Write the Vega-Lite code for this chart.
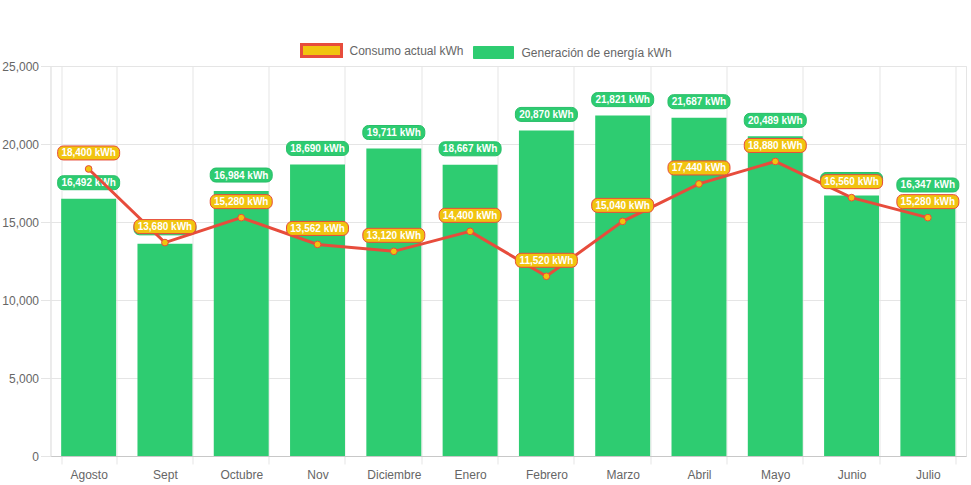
{
  "$schema": "https://vega.github.io/schema/vega-lite/v6.json",
  "width": 915.5,
  "height": 390,
  "autosize": {"type": "none"},
  "padding": {"left": 50.5, "top": 66, "right": 5, "bottom": 29},
  "background": "white",
  "config": {
    "font": "Liberation Sans",
    "view": {"stroke": "#e5e5e5"},
    "axis": {"labelColor": "#666", "labelFontSize": 12, "title": null},
    "axisY": {"format": ",.0f"}
  },
  "data": {
    "values": [
      {"mes": "Agosto", "gen": 16492, "cons": 18400},
      {"mes": "Sept", "gen": 13600, "cons": 13680},
      {"mes": "Octubre", "gen": 16984, "cons": 15280},
      {"mes": "Nov", "gen": 18690, "cons": 13562},
      {"mes": "Diciembre", "gen": 19711, "cons": 13120},
      {"mes": "Enero", "gen": 18667, "cons": 14400},
      {"mes": "Febrero", "gen": 20870, "cons": 11520},
      {"mes": "Marzo", "gen": 21821, "cons": 15040},
      {"mes": "Abril", "gen": 21687, "cons": 17440},
      {"mes": "Mayo", "gen": 20489, "cons": 18880},
      {"mes": "Junio", "gen": 16700, "cons": 16560},
      {"mes": "Julio", "gen": 16347, "cons": 15280}
    ]
  },
  "encoding": {
    "x": {
      "field": "mes", "type": "nominal", "sort": null,
      "scale": {"paddingInner": 0.28, "paddingOuter": 0.14},
      "axis": {"labelAngle": 0, "tickBand": "extent", "grid": true, "gridColor": "#e5e5e5",
               "tickColor": "#e5e5e5", "tickSize": 8, "domainColor": "#c8c8c8", "labelPadding": 5}
    }
  },
  "layer": [
    {
      "mark": {"type": "bar", "opacity": 1},
      "encoding": {
        "y": {"field": "gen", "type": "quantitative",
              "scale": {"domain": [0, 25000], "nice": false},
              "axis": {"values": [0, 5000, 10000, 15000, 20000, 25000], "format": ",.0f",
                       "grid": true, "gridColor": "#e5e5e5", "tickColor": "#e5e5e5", "tickSize": 10,
                       "domainColor": "#e5e5e5", "labelPadding": 2}},
        "fill": {
          "datum": "Generación de energía kWh",
          "scale": {"domain": ["Consumo actual kWh", "Generación de energía kWh"], "range": ["#f1c40f", "#2ecc71"]},
          "legend": {
            "orient": "none", "legendX": 265, "legendY": -21.5, "direction": "horizontal", "title": null,
            "symbolType": "M-1,-0.3H1V0.3H-1Z", "symbolSize": 1600, "symbolOpacity": 1,
            "labelFontSize": 12, "labelColor": "#666", "labelOffset": 22, "columnPadding": 7, "padding": 0,
            "encode": {"symbols": {"update": {
              "stroke": {"signal": "datum.value === 'Consumo actual kWh' ? '#e74c3c' : '#2ecc71'"},
              "strokeWidth": {"signal": "datum.value === 'Consumo actual kWh' ? 3 : 1"}
            }}}
          }
        }
      }
    },
    {
      "mark": {"type": "point", "filled": true, "fill": "#2ecc71", "stroke": "#29bf69", "strokeWidth": 1, "opacity": 1,
               "size": 3844, "yOffset": -16,
               "shape": "M-0.82,-0.226H0.82A0.18,0.18 0 0 1 1,-0.046V0.046A0.18,0.18 0 0 1 0.82,0.226H-0.82A0.18,0.18 0 0 1 -1,0.046V-0.046A0.18,0.18 0 0 1 -0.82,-0.226Z"},
      "encoding": {"y": {"field": "gen", "type": "quantitative", "axis": {"format": ",.0f"}}}
    },
    {
      "transform": [{"calculate": "format(datum.gen, ',') + ' kWh'", "as": "etiqueta"}],
      "mark": {"type": "text", "color": "white", "fontWeight": "bold", "fontSize": 10, "baseline": "middle", "yOffset": -15.5},
      "encoding": {"y": {"field": "gen", "type": "quantitative", "axis": {"format": ",.0f"}}, "text": {"field": "etiqueta"}}
    },
    {
      "mark": {"type": "line", "color": "#e74c3c", "strokeWidth": 3},
      "encoding": {"y": {"field": "cons", "type": "quantitative", "axis": {"format": ",.0f"}}}
    },
    {
      "mark": {"type": "point", "filled": true, "stroke": "#e74c3c", "strokeWidth": 1, "size": 45, "opacity": 1},
      "encoding": {
        "y": {"field": "cons", "type": "quantitative", "axis": {"format": ",.0f"}},
        "fill": {"datum": "Consumo actual kWh"}
      }
    },
    {
      "mark": {"type": "point", "filled": true, "fill": "#f1c40f", "stroke": "#e74c3c", "strokeWidth": 1, "opacity": 1,
               "size": 3844, "yOffset": -16,
               "shape": "M-0.82,-0.226H0.82A0.18,0.18 0 0 1 1,-0.046V0.046A0.18,0.18 0 0 1 0.82,0.226H-0.82A0.18,0.18 0 0 1 -1,0.046V-0.046A0.18,0.18 0 0 1 -0.82,-0.226Z"},
      "encoding": {"y": {"field": "cons", "type": "quantitative", "axis": {"format": ",.0f"}}}
    },
    {
      "transform": [{"calculate": "format(datum.cons, ',') + ' kWh'", "as": "etiqueta"}],
      "mark": {"type": "text", "color": "white", "fontWeight": "bold", "fontSize": 10, "baseline": "middle", "yOffset": -15.5},
      "encoding": {"y": {"field": "cons", "type": "quantitative", "axis": {"format": ",.0f"}}, "text": {"field": "etiqueta"}}
    }
  ]
}
